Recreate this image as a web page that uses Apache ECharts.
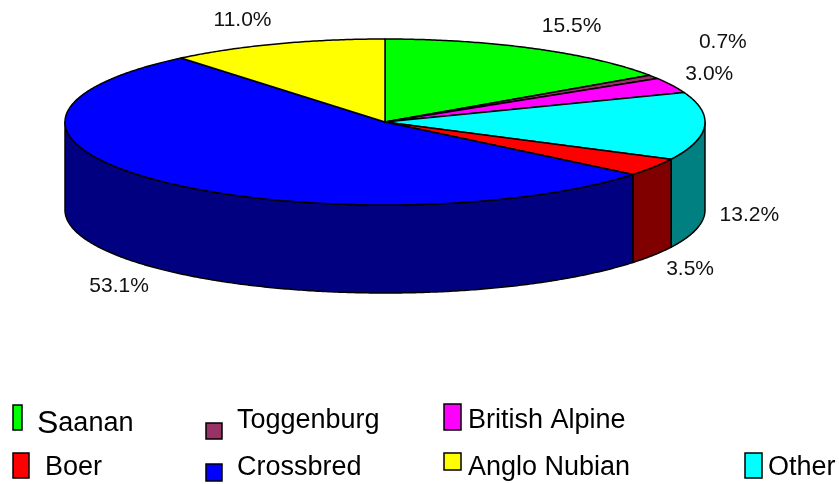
<!DOCTYPE html>
<html>
<head>
<meta charset="utf-8">
<script src="https://cdn.jsdelivr.net/npm/echarts@6/dist/echarts.min.js"></script>
<style>
  html, body { margin: 0; background: #fff; }
  #chart { width: 839px; height: 484px; }
</style>
</head>
<body>
<div id="chart"></div>
<script>
// data, in clockwise order from 12 o'clock
const breeds = ['Saanan', 'Toggenburg', 'British Alpine', 'Other', 'Boer', 'Crossbred', 'Anglo Nubian'];
const shares = [15.5, 0.7, 3.0, 13.2, 3.5, 53.1, 11.0];
const legendOrder = ['Saanan', 'Toggenburg', 'British Alpine', 'Boer', 'Crossbred', 'Anglo Nubian', 'Other'];

// styles
const topColors = ['#00ff00', '#993366', '#ff00ff', '#00ffff', '#ff0000', '#0000ff', '#ffff00'];
const sideColors = ['#008000', '#4d1a33', '#800080', '#008080', '#800000', '#000080', '#808000'];
const LABEL_FONT = '21px "Liberation Sans", Arial, sans-serif';
const LEGEND_FONT = 27;

// layout of the drum
const PIE = { cx: 385, cy: 122, rx: 320, ry: 83, depth: 88 };

// legend swatch boxes (layout only)
const legendBoxes = {
  'Saanan':         { x: 13,  y: 405, w: 9,  h: 25, tx: 37,  ty: 424 },
  'Toggenburg':     { x: 206, y: 423, w: 16, h: 16, tx: 237, ty: 421 },
  'British Alpine': { x: 444, y: 404, w: 17, h: 26, tx: 468, ty: 421 },
  'Boer':           { x: 13,  y: 453, w: 16, h: 25, tx: 45,  ty: 468 },
  'Crossbred':      { x: 206, y: 464, w: 16, h: 17, tx: 237, ty: 468 },
  'Anglo Nubian':   { x: 444, y: 453, w: 17, h: 17, tx: 468, ty: 468 },
  'Other':          { x: 745, y: 453, w: 17, h: 25, tx: 768, ty: 468 }
};

const total = shares.reduce((a, b) => a + b, 0);
const bounds = [];
let acc = 0;
shares.forEach(v => {
  const a0 = 90 - acc / total * 360;
  acc += v;
  bounds.push([a0, 90 - acc / total * 360]);
});

function arc(from, to, dy) {
  const pts = [];
  const n = Math.max(2, Math.ceil(Math.abs(from - to) / 0.5));
  for (let k = 0; k <= n; k++) {
    const t = (from + (to - from) * k / n) * Math.PI / 180;
    pts.push([PIE.cx + PIE.rx * Math.cos(t), PIE.cy - PIE.ry * Math.sin(t) + dy]);
  }
  return pts;
}

// percent labels outside the drum, small ones pushed away from bigger ones
const ctx = document.createElement('canvas').getContext('2d');
ctx.font = LABEL_FONT;
const labels = shares.map((v, i) => {
  const mid = (bounds[i][0] + bounds[i][1]) / 2 * Math.PI / 180;
  const c = Math.cos(mid), s = Math.sin(mid);
  const text = v.toFixed(1) + '%';
  const w = ctx.measureText(text).width;
  return {
    text, w, h: 22, c, s,
    x: PIE.cx + (PIE.rx + 15) * c + Math.sign(c) * w / 2,
    y: PIE.cy - (PIE.ry + 25) * s + (s < 0 ? PIE.depth : 0)
  };
});
function overlap(p, l, gap) {
  return Math.abs(p.x - l.x) < (p.w + l.w) / 2 + gap && Math.abs(p.y - l.y) < (p.h + l.h) / 2 + gap;
}
const placed = [];
shares.map((v, i) => i).sort((a, b) => shares[b] - shares[a]).forEach(i => {
  const l = labels[i];
  let guard = 0;
  while (placed.some(p => overlap(p, l, 10)) && guard++ < 400) {
    l.x += l.c;
    l.y -= l.s;
  }
  placed.push(l);
});

function renderSlice(i) {
  return function (params, api) {
    const a0 = bounds[i][0], a1 = bounds[i][1];
    const children = [];
    const hi = Math.min(a0, 0), lo = Math.max(a1, -180);
    if (hi > lo) {
      children.push({
        type: 'polygon', z2: 1,
        shape: { points: arc(hi, lo, 0).concat(arc(lo, hi, PIE.depth)) },
        style: { fill: sideColors[i], stroke: '#000', lineWidth: 1.5, lineJoin: 'round' }
      });
    }
    children.push({
      type: 'polygon', z2: 10,
      shape: { points: [[PIE.cx, PIE.cy]].concat(arc(a0, a1, 0)) },
      style: { fill: topColors[i], stroke: '#000', lineWidth: 1.5, lineJoin: 'round' }
    });
    const lb = labels[i];
    children.push({
      type: 'text', z2: 20,
      style: { text: lb.text, x: lb.x, y: lb.y, align: 'center', verticalAlign: 'middle', font: LABEL_FONT, fill: '#111' }
    });
    return { type: 'group', children };
  };
}

const legendGraphics = [];
legendOrder.forEach(name => {
  const b = legendBoxes[name];
  const i = breeds.indexOf(name);
  legendGraphics.push({
    type: 'rect', shape: { x: b.x, y: b.y, width: b.w, height: b.h },
    style: { fill: topColors[i], stroke: '#000', lineWidth: 1.5 }
  });
  legendGraphics.push({
    type: 'text', x: b.tx, y: b.ty,
    style: {
      text: name === 'Saanan' ? '{s|S}aanan' : name,
      rich: { s: { fontSize: 32, fontFamily: 'Liberation Sans' } },
      fontSize: LEGEND_FONT, fontFamily: '"Liberation Sans", Arial, sans-serif',
      fill: '#000', verticalAlign: 'middle'
    }
  });
});

const chart = echarts.init(document.getElementById('chart'));
chart.setOption({
  animation: false,
  backgroundColor: '#fff',
  series: breeds.map((name, i) => ({
    type: 'custom',
    name,
    coordinateSystem: 'none',
    silent: true,
    data: [shares[i]],
    renderItem: renderSlice(i)
  })),
  graphic: legendGraphics
});
</script>
</body>
</html>
